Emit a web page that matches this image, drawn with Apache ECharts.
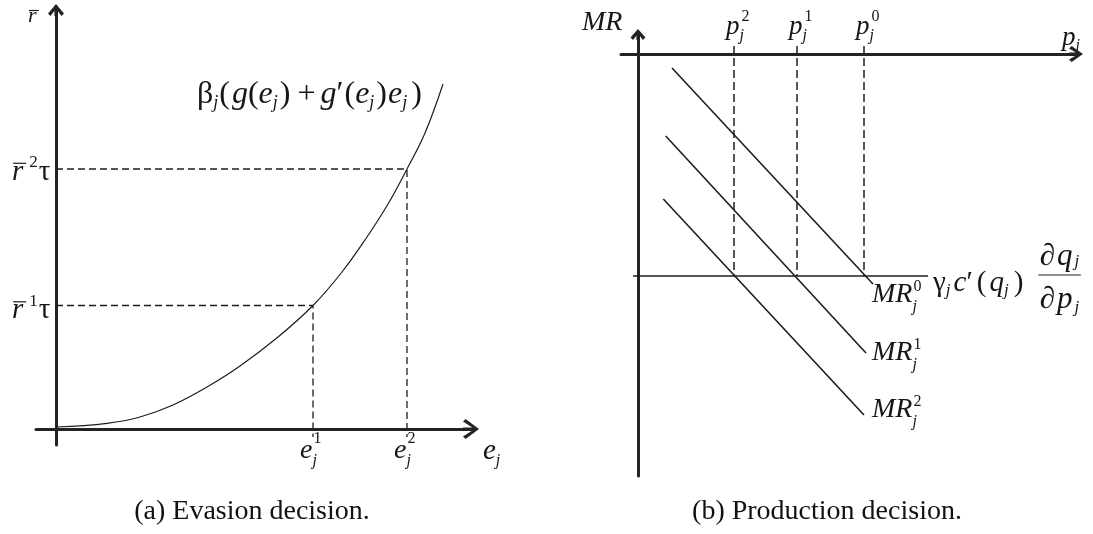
<!DOCTYPE html>
<html>
<head>
<meta charset="utf-8">
<script src="https://cdn.jsdelivr.net/npm/echarts@6/dist/echarts.min.js"></script>
<style>
  html, body { margin: 0; padding: 0; background: #fff; }
  #chart { width: 1093px; height: 534px; }
</style>
</head>
<body>
<div id="chart"></div>
<script>
// ---- Panel (a): evasion decision ----
// marginal benefit curve beta_j(g(e_j) + g'(e_j) e_j)
const evasionCurve = [
  [0, 0.02], [0.51, 0.057], [0.84, 0.12], [1.17, 0.24], [1.51, 0.42], [1.84, 0.63],
  [2.22, 0.92], [2.57, 1.235], [2.86, 1.57], [3.11, 1.92], [3.32, 2.25], [3.51, 2.60],
  [3.69, 2.96], [3.87, 3.45]
];
const evasionLevels = [1.235, 2.60];   // r̄¹τ, r̄²τ
const evasionPoints = [2.57, 3.51];    // e_j^1, e_j^2
const evasionLevelSup = ['1', '2'];
const evasionTickSup = ['1', '2'];

// ---- Panel (b): production decision ----
const costLevel = -2.22;               // γ_j c'(q_j) ∂q_j/∂p_j
const costSpan = [-0.05, 2.90];
const pricePoints = [2.26, 1.59, 0.96]; // p_j^0, p_j^1, p_j^2
const priceSup = ['0', '1', '2'];
const mrLines = [
  [[0.34, -0.14], [2.35, -2.30]],
  [[0.277, -0.82], [2.28, -2.99]],
  [[0.253, -1.45], [2.26, -3.61]]
];
const mrSup = ['0', '1', '2'];

const AX = '#232323';
const INK = '#1e1e1e';
const SERIF = '"Liberation Serif", "Times New Roman", serif';

// open chevron arrow head with a stem, pointing up, bbox w x h
function arrowPath(w, h, t) {
  const c = w / 2, s = 1.6;
  return 'path://M' + c + ',0 L' + w + ',' + (h - t) + ' L' + (w - t) + ',' + h +
    ' L' + c + ',' + (t * 1.7) + ' L' + t + ',' + h + ' L0,' + (h - t) + ' Z' +
    ' M' + (c - s) + ',' + (t * 0.8) + ' L' + (c + s) + ',' + (t * 0.8) +
    ' L' + (c + s) + ',' + h + ' L' + (c - s) + ',' + h + ' Z';
}

function axis(extra) {
  return Object.assign({
    type: 'value',
    axisTick: { show: false },
    axisLabel: { show: false },
    splitLine: { show: false }
  }, extra);
}
function axisLine(w, h) {
  return {
    onZero: true,
    symbol: ['none', arrowPath(w, h, 2.6)],
    symbolSize: [w, h],
    lineStyle: { color: AX, width: 3 }
  };
}

const series = [];
series.push({
  type: 'line', xAxisIndex: 0, yAxisIndex: 0, data: evasionCurve,
  smooth: 0.4, showSymbol: false, silent: true,
  lineStyle: { color: INK, width: 1.2 }
});
evasionLevels.forEach((r, i) => {
  series.push({
    type: 'line', xAxisIndex: 0, yAxisIndex: 0,
    data: [[0, r], [evasionPoints[i], r], [evasionPoints[i], -0.08]],
    showSymbol: false, silent: true,
    lineStyle: { color: INK, width: 1.3, type: [7, 4] }
  });
});
series.push({
  type: 'line', xAxisIndex: 1, yAxisIndex: 1,
  data: costSpan.map(x => [x, costLevel]),
  showSymbol: false, silent: true,
  lineStyle: { color: INK, width: 1.6 }
});
pricePoints.forEach(p => {
  series.push({
    type: 'line', xAxisIndex: 1, yAxisIndex: 1,
    data: [[p, 0.08], [p, costLevel]],
    showSymbol: false, silent: true,
    lineStyle: { color: INK, width: 1.5, type: [8, 4] }
  });
});
mrLines.forEach(l => {
  series.push({
    type: 'line', xAxisIndex: 1, yAxisIndex: 1, data: l,
    showSymbol: false, silent: true,
    lineStyle: { color: INK, width: 1.6 }
  });
});

const chart = echarts.init(document.getElementById('chart'), null, { renderer: 'canvas' });
chart.setOption({
  animation: false,
  backgroundColor: '#fff',
  grid: [
    { left: 36, top: 10, width: 435, height: 435 },
    { left: 621, top: 34.5, width: 455, height: 441.5 }
  ],
  xAxis: [
    axis({ gridIndex: 0, min: -0.2, max: 4.15, axisLine: axisLine(20, 16) }),
    axis({ gridIndex: 1, min: -0.17, max: 4.38, axisLine: axisLine(16, 14) })
  ],
  yAxis: [
    axis({ gridIndex: 0, min: -0.16, max: 4.19, axisLine: axisLine(16, 12) }),
    axis({ gridIndex: 1, min: -4.22, max: 0.195, axisLine: axisLine(15, 11) })
  ],
  series: series
});

// ---- math-style labels ----
const mctx = document.createElement('canvas').getContext('2d');
function fnt(size, it) { return (it ? 'italic ' : '') + size + 'px ' + SERIF; }
function tw(t, size, it) { mctx.font = fnt(size, it); return mctx.measureText(t).width; }

// tokens: ['i',txt] italic, ['r',txt] upright, ['bar',txt] italic with overbar,
// ['^',txt] superscript, ['_',txt] subscript, ['^_',sup,sub] stacked, ['sp',px] space
function mathText(tokens, o) {
  const B = o.size, S = o.script || 16;
  const out = [];
  let x = 0;
  tokens.forEach(tk => {
    const k = tk[0], a = tk[1], b = tk[2];
    if (k === 'i' || k === 'r') {
      out.push({ t: a, x: x, dy: 0, size: B, it: k === 'i' });
      x += tw(a, B, k === 'i');
    } else if (k === 'bar') {
      const w = tw(a, B, true);
      out.push({ t: a, x: x, dy: 0, size: B, it: true });
      out.push({ bar: true, x1: x + 0.04 * B, x2: x + w + 0.1 * B, dy: o.barDy || -0.3 * B });
      x += w;
    } else if (k === '^') {
      out.push({ t: a, x: x, dy: o.sup, size: S, it: false });
      x += tw(a, S, false);
    } else if (k === '_') {
      out.push({ t: a, x: x, dy: o.sub, size: S, it: true });
      x += tw(a, S, true);
    } else if (k === '^_') {
      out.push({ t: a, x: x + (o.supDx || 0), dy: o.sup, size: S, it: false });
      out.push({ t: b, x: x, dy: o.sub, size: S, it: true });
      x += Math.max(tw(a, S, false) + (o.supDx || 0), tw(b, S, true));
    } else if (k === 'sp') {
      x += a;
    }
  });
  return { parts: out, width: x };
}

const elements = [];
function emit(m, X, Y) {
  m.parts.forEach(p => {
    if (p.bar) {
      elements.push({
        type: 'line', silent: true,
        shape: { x1: X + p.x1, y1: Y + p.dy, x2: X + p.x2, y2: Y + p.dy },
        style: { stroke: INK, lineWidth: 1.2 }
      });
    } else {
      elements.push({
        type: 'text', silent: true, x: X + p.x, y: Y + p.dy,
        style: {
          text: p.t, font: fnt(p.size, p.it), fill: '#161616',
          align: 'left', verticalAlign: 'middle',
          textAlign: 'left', textVerticalAlign: 'middle'
        }
      });
    }
  });
}
function label(grid, pt, dx, dy, tokens, o) {
  const pos = chart.convertToPixel({ xAxisIndex: grid, yAxisIndex: grid }, pt);
  const m = mathText(tokens, o);
  emit(m, pos[0] + dx, pos[1] + dy);
  return { x: pos[0] + dx, y: pos[1] + dy, width: m.width };
}

// panel (a)
label(0, [0, 4.19], -28, 6.5, [['bar', 'r']], { size: 22, barDy: -6 });
const levelDy = [5, 3];
evasionLevels.forEach((r, i) => {
  label(0, [0, r], -44, levelDy[i], [['bar', 'r'], ['sp', 6], ['^', evasionLevelSup[i]], ['sp', 1], ['r', 'τ']],
    { size: 29, script: 17, sup: -9 });
});
evasionPoints.forEach((e, i) => {
  label(0, [e, 0], -13, 22, [['i', 'e'], ['^_', evasionTickSup[i], 'j']],
    { size: 28, script: 16, sup: -12, sub: 10, supDx: 1 });
});
label(0, [4.15, 0], 12, 22, [['i', 'e'], ['_', 'j']], { size: 29, script: 16, sub: 10 });
const last = evasionCurve[evasionCurve.length - 1];
label(0, last, -246, 11, [
  ['r', 'β'], ['_', 'j'], ['sp', 1], ['r', '('], ['sp', 2], ['i', 'g'], ['r', '('], ['i', 'e'], ['_', 'j'], ['sp', 2], ['r', ')'],
  ['sp', 7], ['r', '+'], ['sp', 5],
  ['i', 'g'], ['r', '′'], ['sp', 1], ['r', '('], ['i', 'e'], ['_', 'j'], ['sp', 2], ['r', ')'], ['sp', 1],
  ['i', 'e'], ['_', 'j'], ['sp', 4], ['r', ')']
], { size: 32, script: 18, sub: 8 });

// panel (b)
label(1, [0, 0.195], -56, -11.5, [['i', 'MR']], { size: 28 });
pricePoints.forEach((p, i) => {
  label(1, [p, 0], -8, -27.5, [['i', 'p'], ['^_', priceSup[i], 'j']],
    { size: 27, script: 16, sup: -10, sub: 9, supDx: 2 });
});
label(1, [4.38, 0], -14, -16.5, [['i', 'p'], ['_', 'j']], { size: 27, script: 16, sub: 8 });
const g = label(1, [costSpan[1], costLevel], 5, 7, [
  ['r', 'γ'], ['_', 'j'], ['sp', 3], ['i', 'c'], ['r', '′'], ['sp', 4], ['r', '('], ['sp', 3],
  ['i', 'q'], ['_', 'j'], ['sp', 5], ['r', ')']
], { size: 29, script: 17, sub: 8 });
// fraction ∂q_j / ∂p_j
{
  const barY = chart.convertToPixel({ xAxisIndex: 1, yAxisIndex: 1 }, [0, costLevel])[1] - 1;
  const num = mathText([['r', '∂'], ['sp', 2], ['i', 'q'], ['sp', 2], ['_', 'j']], { size: 31, script: 17, sub: 5 });
  const den = mathText([['r', '∂'], ['sp', 2], ['i', 'p'], ['sp', 2], ['_', 'j']], { size: 31, script: 17, sub: 8 });
  const fx = g.x + g.width + 15;
  const fw = Math.max(num.width, den.width) + 3;
  emit(num, fx + (fw - num.width) / 2, barY - 18);
  emit(den, fx + (fw - den.width) / 2, barY + 25);
  elements.push({
    type: 'line', silent: true,
    shape: { x1: fx, y1: barY, x2: fx + fw, y2: barY },
    style: { stroke: INK, lineWidth: 1.2 }
  });
}
const mrOffsets = [[-1, 11], [6, 0], [8, -5]];
mrLines.forEach((l, i) => {
  label(1, l[1], mrOffsets[i][0], mrOffsets[i][1], [['i', 'MR'], ['^_', mrSup[i], 'j']],
    { size: 28, script: 16, sup: -8, sub: 12, supDx: 1 });
});

// captions
[['(a) Evasion decision.', 252], ['(b) Production decision.', 827]].forEach(c => {
  elements.push({
    type: 'text', silent: true, x: c[1], y: 512,
    style: {
      text: c[0], font: '28px ' + SERIF, fill: '#111',
      align: 'center', verticalAlign: 'middle',
      textAlign: 'center', textVerticalAlign: 'middle'
    }
  });
});

chart.setOption({ graphic: { elements: elements } });
</script>
</body>
</html>
